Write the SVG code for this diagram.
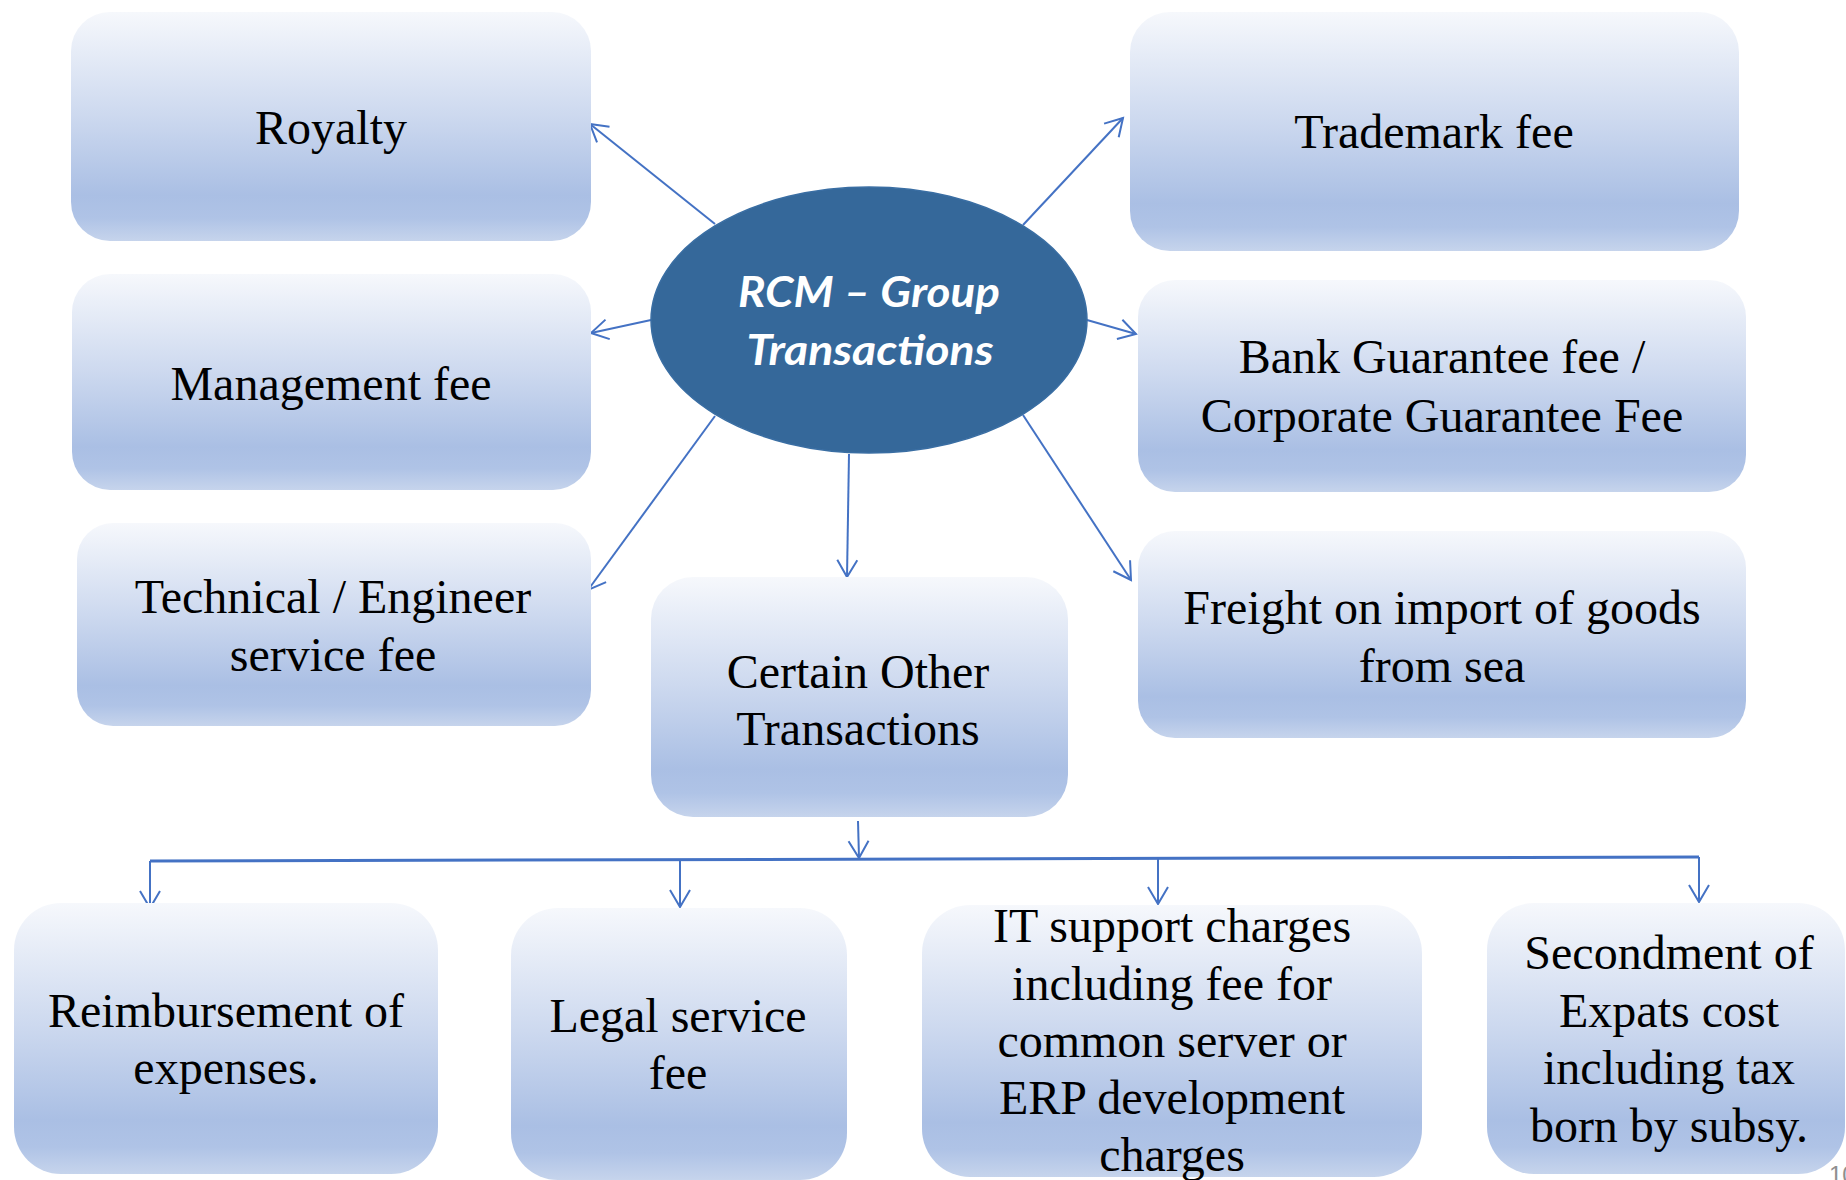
<svg xmlns="http://www.w3.org/2000/svg" width="1846" height="1180" viewBox="0 0 1846 1180">
  <style>
    .box { fill: url(#boxFill); }
    .lbl { font-family: "Liberation Serif", "Times New Roman", serif; font-size: 48px; fill: #000; text-anchor: middle; }
    .hub { fill: #35689a; stroke: #3a6ea3; stroke-width: 1.5; }
    .hubtxt { font-family: Lato, "Open Sans", "Liberation Sans", sans-serif; font-weight: bold; font-style: italic; font-size: 42px; fill: #fff; text-anchor: middle; }
    .link { stroke: #4472c4; stroke-width: 2; fill: none; marker-end: url(#openArrow); }
    .bus { stroke: #4472c4; stroke-width: 3; fill: none; }
    .pageno { font-family: "Liberation Sans", Arial, sans-serif; font-size: 24px; fill: #8f8f8f; }
  </style>
  <defs>
    <linearGradient id="boxFill" x1="0" y1="0" x2="0" y2="1">
      <stop offset="0" stop-color="#f6f8fc"/>
      <stop offset="0.45" stop-color="#cdd9ef"/>
      <stop offset="0.8" stop-color="#aabfe4"/>
      <stop offset="0.9" stop-color="#afc3e6"/>
      <stop offset="1" stop-color="#c6d4ec"/>
    </linearGradient>
    <marker id="openArrow" markerUnits="userSpaceOnUse" markerWidth="30" markerHeight="30" viewBox="-20 -15 24 30" refX="0" refY="0" orient="auto">
      <path d="M-17,-10 L0,0 L-17,10" fill="none" stroke="#4472c4" stroke-width="2"/>
    </marker>
  </defs>

  <rect width="1846" height="1180" fill="#ffffff"/>

  <!-- connectors -->
  <g id="connectors">
    <line class="link" x1="715" y1="224" x2="590" y2="124"/>
    <line class="link" x1="651" y1="320" x2="591" y2="333"/>
    <line class="link" x1="715" y1="416" x2="588" y2="590"/>
    <line class="link" x1="849" y1="454" x2="847" y2="577"/>
    <line class="link" x1="1023" y1="415" x2="1131" y2="580"/>
    <line class="link" x1="1087" y1="320" x2="1136" y2="334"/>
    <line class="link" x1="1023" y1="225" x2="1123" y2="118"/>
    <line class="link" x1="858" y1="821" x2="859" y2="858"/>
    <polyline class="bus" points="150,861 1699,857"/>
    <line class="link" x1="150" y1="861" x2="150" y2="908"/>
    <line class="link" x1="680" y1="860" x2="680" y2="907"/>
    <line class="link" x1="1158" y1="859" x2="1158" y2="904"/>
    <line class="link" x1="1699" y1="857" x2="1699" y2="902"/>
  </g>

  <!-- hub -->
  <g id="hub">
    <ellipse class="hub" cx="869" cy="320" rx="218" ry="133"/>
    <text class="hubtxt" x="869" y="307" textLength="262" lengthAdjust="spacingAndGlyphs">RCM – Group</text>
    <text class="hubtxt" x="870" y="365" textLength="247" lengthAdjust="spacingAndGlyphs">Transactions</text>
  </g>

  <!-- left column -->
  <g id="royalty">
    <rect class="box" x="71" y="12" width="520" height="229" rx="39"/>
    <text class="lbl" x="331" y="144">Royalty</text>
  </g>
  <g id="management-fee">
    <rect class="box" x="72" y="274" width="519" height="216" rx="38"/>
    <text class="lbl" x="331" y="400">Management fee</text>
  </g>
  <g id="technical-fee">
    <rect class="box" x="77" y="523" width="514" height="203" rx="36"/>
    <text class="lbl" x="333" y="613">Technical / Engineer</text>
    <text class="lbl" x="333" y="671">service fee</text>
  </g>

  <!-- centre -->
  <g id="certain-other">
    <rect class="box" x="651" y="577" width="417" height="240" rx="42"/>
    <text class="lbl" x="858" y="688">Certain Other</text>
    <text class="lbl" x="858" y="745">Transactions</text>
  </g>

  <!-- right column -->
  <g id="trademark-fee">
    <rect class="box" x="1130" y="12" width="609" height="239" rx="40"/>
    <text class="lbl" x="1434" y="148">Trademark fee</text>
  </g>
  <g id="guarantee-fee">
    <rect class="box" x="1138" y="280" width="608" height="212" rx="37"/>
    <text class="lbl" x="1442" y="373">Bank Guarantee fee /</text>
    <text class="lbl" x="1442" y="432">Corporate Guarantee Fee</text>
  </g>
  <g id="freight">
    <rect class="box" x="1138" y="531" width="608" height="207" rx="37"/>
    <text class="lbl" x="1442" y="624">Freight on import of goods</text>
    <text class="lbl" x="1442" y="682">from sea</text>
  </g>

  <!-- bottom row -->
  <g id="reimbursement">
    <rect class="box" x="14" y="903" width="424" height="271" rx="47"/>
    <text class="lbl" x="226" y="1027">Reimbursement of</text>
    <text class="lbl" x="226" y="1084">expenses.</text>
  </g>
  <g id="legal-fee">
    <rect class="box" x="511" y="908" width="336" height="272" rx="47"/>
    <text class="lbl" x="678" y="1032">Legal service</text>
    <text class="lbl" x="678" y="1089">fee</text>
  </g>
  <g id="it-support">
    <rect class="box" x="922" y="905" width="500" height="272" rx="48"/>
    <text class="lbl" x="1172" y="942">IT support charges</text>
    <text class="lbl" x="1172" y="1000">including fee for</text>
    <text class="lbl" x="1172" y="1057">common server or</text>
    <text class="lbl" x="1172" y="1114">ERP development</text>
    <text class="lbl" x="1172" y="1171">charges</text>
  </g>
  <g id="secondment">
    <rect class="box" x="1487" y="903" width="358" height="271" rx="47"/>
    <text class="lbl" x="1669" y="969">Secondment of</text>
    <text class="lbl" x="1669" y="1027">Expats cost</text>
    <text class="lbl" x="1669" y="1084">including tax</text>
    <text class="lbl" x="1669" y="1142">born by subsy.</text>
  </g>

  <text class="pageno" x="1829" y="1183">10</text>
</svg>
